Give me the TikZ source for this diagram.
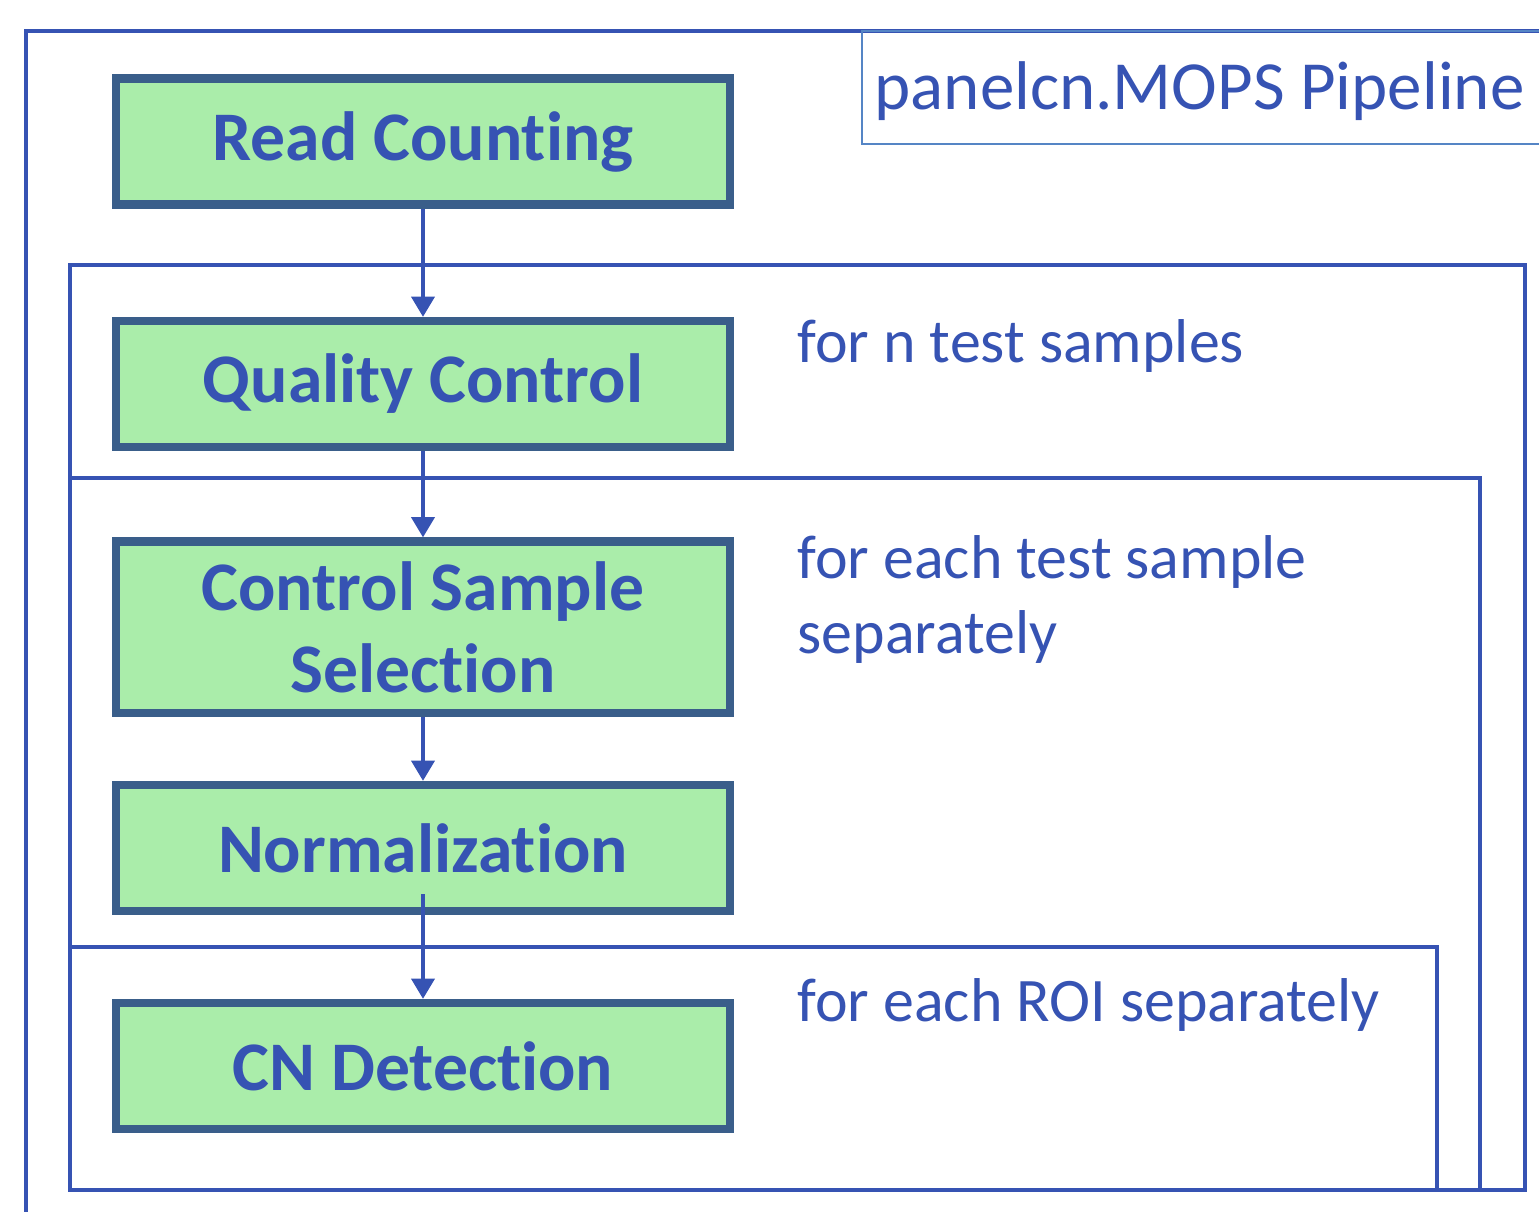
\documentclass[tikz,border=0pt]{standalone}
\usepackage{fontspec}
\setmainfont{Carlito}[Ligatures=NoCommon]
\usepackage{xcolor}
\usepackage{tikz}
\usetikzlibrary{arrows.meta, positioning}
\definecolor{loopblue}{HTML}{3653B3}
\definecolor{stageedge}{HTML}{3A5E8A}
\definecolor{stagefill}{HTML}{AAEDAA}
\definecolor{titleedge}{HTML}{5585C5}
\tikzstyle{stage} = [rectangle, minimum width=6.13cm, minimum height=1.26cm, inner sep=0pt, text centered, align=center, draw=stageedge, line width=2.3pt, fill=stagefill, text=loopblue, font=\bfseries\fontsize{19.8}{23.3}\selectfont]
\tikzstyle{loopframe} = [draw=loopblue, line width=1.35pt]
\tikzstyle{titleframe} = [draw=titleedge, line width=0.8pt]
\tikzstyle{looplabel} = [inner sep=0pt, anchor=base west, align=left, text=loopblue, font=\fontsize{17.6}{21.3}\selectfont]
\tikzstyle{arrow} = [draw=loopblue, line width=1.3pt, -{Triangle[width=6.5pt,length=5.8pt]}]

\begin{document}
\begin{tikzpicture}[x=0.01cm, y=-0.01cm]
  \useasboundingbox (0,0) rectangle (1539,1212);

  % loop frames
  \draw[loopframe] (70,265) rectangle (1525,1190);
  \draw[loopframe] (70,478) rectangle (1480,1190);
  \draw[loopframe] (70,947) rectangle (1437,1190);
  \draw[loopframe] (26,1212) -- (26,31) -- (1539,31);

  % title
  \draw[titleframe] (1539,144) -- (862,144) -- (862,31) -- (1539,31);
  \node[inner sep=0pt, anchor=base west, text=loopblue, font=\fontsize{19.6}{23}\selectfont] (title) at (874,110) {panelcn.MOPS Pipeline};

  % stages
  \node[stage] (rc) at (423,141.5) {Read Counting};
  \node[stage] (qc) at (423,384) {Quality Control};
  \node[stage, minimum height=1.71cm] (css) at (423,627) {Control Sample\\Selection};
  \node[stage] (norm) at (423,848) {Normalization};
  \node[stage] (cnd) at (423,1066) {CN Detection};

  \node[looplabel] (lab-n) at (797,362) {for n test samples};
  \node[looplabel] (lab-each) at (797,653) {for each test sample\\separately};
  \node[looplabel] (lab-roi) at (797,1021) {for each ROI separately};

  \draw[arrow] (rc) -- (qc);
  \draw[arrow] (qc) -- (css);
  \draw[arrow] (css) -- (norm);
  \draw[arrow] ([yshift=0.21cm]norm.south) -- (cnd);
\end{tikzpicture}
\end{document}
